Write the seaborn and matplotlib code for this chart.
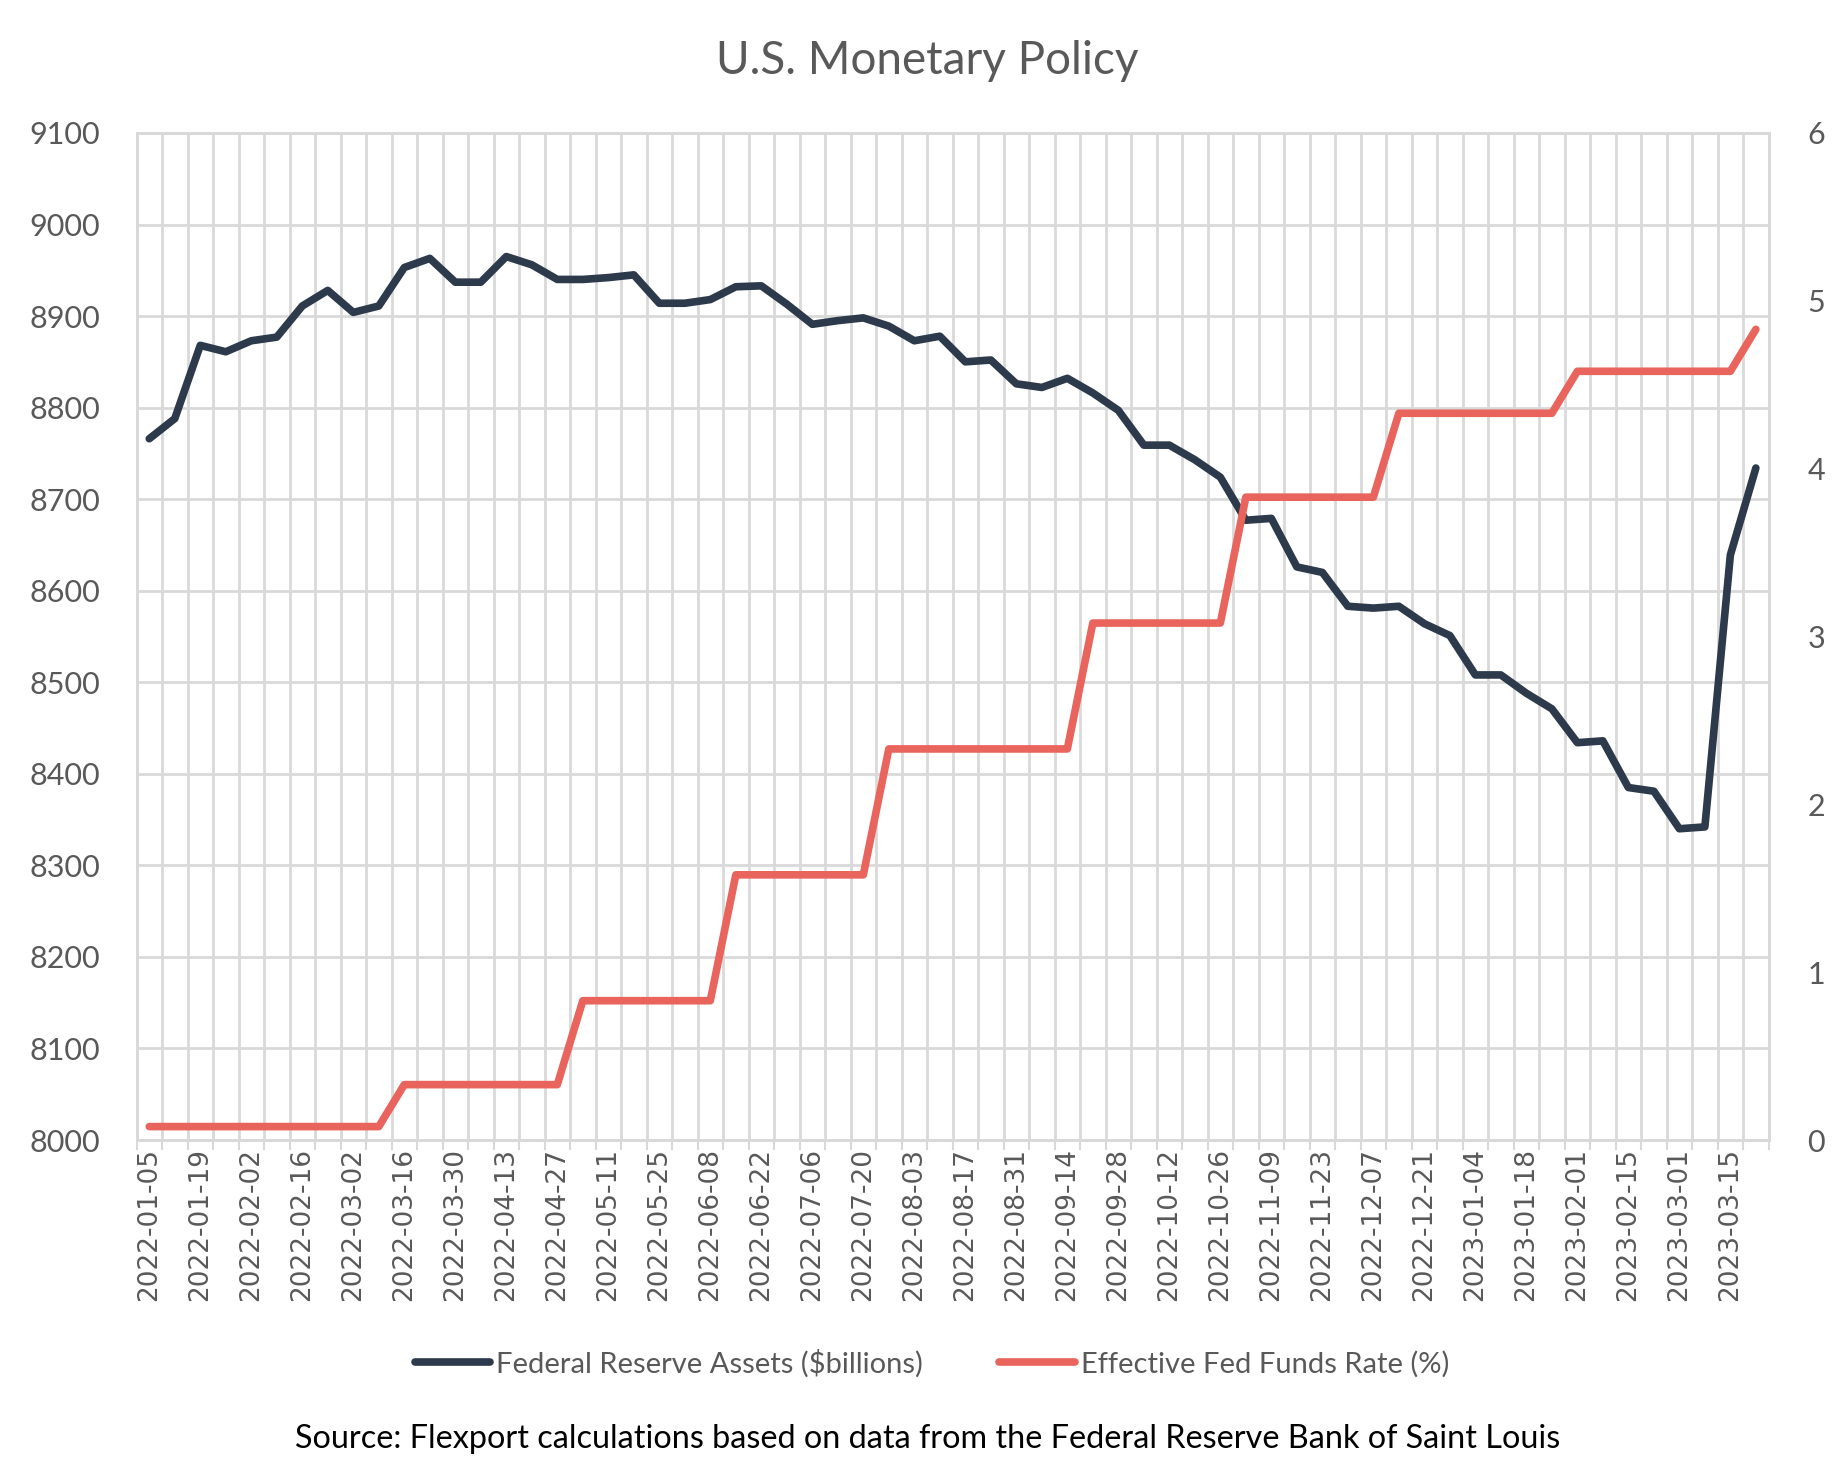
import pandas as pd
import matplotlib.pyplot as plt
import seaborn as sns

# weekly dates (Wednesdays), Fed assets in $bn, effective fed funds rate in %
dates = pd.date_range("2022-01-05", "2023-03-22", freq="7D").strftime("%Y-%m-%d").tolist()

fed_assets = [
    8766, 8788, 8868, 8861, 8873, 8877, 8911, 8928, 8904, 8911,
    8953, 8963, 8937, 8937, 8965, 8956, 8940, 8940, 8942, 8945,
    8914, 8914, 8918, 8932, 8933, 8913, 8891, 8895, 8898, 8889,
    8873, 8878, 8850, 8852, 8826, 8822, 8832, 8816, 8797, 8759,
    8759, 8743, 8724, 8677, 8679, 8626, 8620, 8583, 8581, 8583,
    8564, 8551, 8508, 8508, 8488, 8471, 8434, 8436, 8385, 8381,
    8340, 8342, 8639, 8734,
]

fed_rate = [
    0.08, 0.08, 0.08, 0.08, 0.08, 0.08, 0.08, 0.08, 0.08, 0.08,
    0.33, 0.33, 0.33, 0.33, 0.33, 0.33, 0.33,
    0.83, 0.83, 0.83, 0.83, 0.83, 0.83,
    1.58, 1.58, 1.58, 1.58, 1.58, 1.58,
    2.33, 2.33, 2.33, 2.33, 2.33, 2.33, 2.33, 2.33,
    3.08, 3.08, 3.08, 3.08, 3.08, 3.08,
    3.83, 3.83, 3.83, 3.83, 3.83, 3.83,
    4.33, 4.33, 4.33, 4.33, 4.33, 4.33, 4.33,
    4.58, 4.58, 4.58, 4.58, 4.58, 4.58, 4.58,
    4.83,
]

BLUE = "#2c3a4b"
RED = "#e8645c"
GRID = "#d9d9d9"
TEXT = "#595959"

df = pd.DataFrame({"pos": range(len(dates)), "date": dates,
                   "assets": fed_assets, "rate": fed_rate})

sns.set_theme(style="white")
plt.rcParams["font.family"] = ["Lato", "DejaVu Sans"]

fig = plt.figure(figsize=(18.45, 14.61), dpi=100)
ax = fig.add_axes([0.074, 0.2197, 0.8846, 0.6893])
ax2 = ax.twinx()

sns.lineplot(x="pos", y="assets", data=df, ax=ax, color=BLUE, lw=5.5,
             solid_joinstyle="round", solid_capstyle="round",
             label="Federal Reserve Assets ($billions)", legend=False, zorder=3)
sns.lineplot(x="pos", y="rate", data=df, ax=ax2, color=RED, lw=5.5,
             solid_joinstyle="round", solid_capstyle="round",
             label="Effective Fed Funds Rate (%)", legend=False, zorder=3)

n = len(dates)
ax.set_xlim(-0.5, n - 0.5)
ax.set_ylim(8000, 9100)
ax.set_yticks(range(8000, 9101, 100))
ax2.set_ylim(0, 6)
ax2.set_yticks(range(0, 7))

# category axis: labels every other week, gridlines between categories
ax.set_xticks(range(0, n, 2))
ax.set_xticklabels(dates[::2], rotation=90, fontsize=19, color=TEXT,
                   family="DejaVu Sans")
ax.set_xticks([i - 0.5 for i in range(n + 1)], minor=True)
ax.tick_params(axis="x", which="major", length=0, pad=6)
ax.tick_params(axis="x", which="minor", length=7, width=1.5, color=GRID, bottom=True)
ax.tick_params(axis="y", length=0, pad=26, labelsize=22, labelcolor=TEXT)
ax2.tick_params(axis="y", length=0, pad=28, labelsize=22, labelcolor=TEXT)

ax.grid(True, axis="y", which="major", color=GRID, lw=2)
ax.grid(True, axis="x", which="minor", color=GRID, lw=2)
ax.grid(False, axis="x", which="major")
ax2.grid(False)
ax.set_axisbelow(True)
ax.set_xlabel("")
ax.set_ylabel("")
ax2.set_ylabel("")

for a in (ax, ax2):
    for s in a.spines.values():
        s.set_color(GRID)
        s.set_linewidth(2)

fig.text(0.5026, 0.958, "U.S. Monetary Policy", ha="center", va="center",
         fontsize=33, color=TEXT)

h1, l1 = ax.get_legend_handles_labels()
h2, l2 = ax2.get_legend_handles_labels()
fig.legend(h1 + h2, l1 + l2, loc="center", bbox_to_anchor=(0.505, 0.067),
           ncol=2, frameon=False, fontsize=21, labelcolor=TEXT,
           handlelength=2.6, handletextpad=0.2, columnspacing=2.6)

fig.text(0.5026, 0.015, "Source: Flexport calculations based on data from the Federal Reserve Bank of Saint Louis",
         ha="center", va="center", fontsize=23.3, color="black")

fig.savefig("out.png", dpi=100)
